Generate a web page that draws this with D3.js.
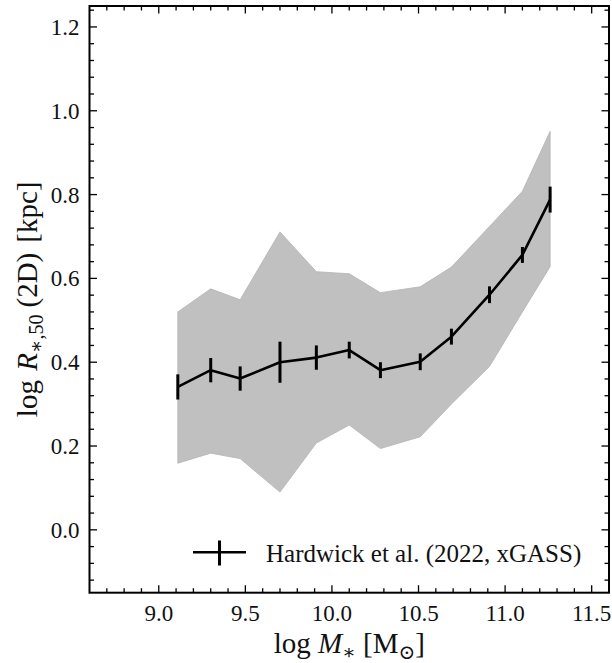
<!DOCTYPE html>
<html lang="en">
<head>
    <meta charset="UTF-8">
    <title>Size-mass relation</title>
    <script src="https://d3js.org/d3.v7.min.js"></script>
    <style>
        body { margin: 0; padding: 0; background: #fff; }
        svg text { font-family: "Liberation Serif", "DejaVu Serif", serif; fill: #111; }
    </style>
</head>
<body>
    <svg id="chart"></svg>
    <script>
        // median size-mass relation (Hardwick et al. 2022, xGASS)
        const logMstar = [9.11, 9.30, 9.47, 9.70, 9.91, 10.10, 10.28, 10.51, 10.69, 10.91, 11.10, 11.26];
        const medianR  = [0.341, 0.381, 0.361, 0.400, 0.411, 0.429, 0.381, 0.401, 0.461, 0.561, 0.656, 0.788];
        const errR     = [0.030, 0.029, 0.029, 0.049, 0.029, 0.020, 0.019, 0.020, 0.019, 0.020, 0.019, 0.031];
        // scatter band
        const upperR   = [0.520, 0.575, 0.549, 0.711, 0.616, 0.611, 0.566, 0.580, 0.627, 0.724, 0.808, 0.951];
        const lowerR   = [0.159, 0.183, 0.170, 0.090, 0.207, 0.250, 0.194, 0.222, 0.300, 0.390, 0.520, 0.628];

        const xTicks = [9.0, 9.5, 10.0, 10.5, 11.0, 11.5];
        const yTicks = [0.0, 0.2, 0.4, 0.6, 0.8, 1.0, 1.2];
        const legendLabel = "Hardwick et al. (2022, xGASS)";

        const width = 612, height = 663;
        const margin = { top: 6, right: 3, bottom: 70.3, left: 89.5 };

        const svg = d3.select("#chart").attr("width", width).attr("height", height);

        const x = d3.scaleLinear().domain([8.6, 11.6]).range([margin.left, width - margin.right]);
        const y = d3.scaleLinear().domain([-0.15, 1.25]).range([height - margin.bottom, margin.top]);

        const pts = logMstar.map((m, i) => ({ m: m, r: medianR[i], e: errR[i], lo: lowerR[i], hi: upperR[i] }));

        // band
        const area = d3.area().x(d => x(d.m)).y0(d => y(d.lo)).y1(d => y(d.hi));
        svg.append("path")
            .datum(pts)
            .attr("d", area)
            .attr("fill", "#c0c0c0")
            .attr("stroke", "#b4b4b4")
            .attr("stroke-width", 0.8);

        // median line
        const line = d3.line().x(d => x(d.m)).y(d => y(d.r));
        svg.append("path")
            .datum(pts)
            .attr("d", line)
            .attr("fill", "none")
            .attr("stroke", "#000")
            .attr("stroke-width", 2.6)
            .attr("stroke-linejoin", "round");

        // error bars
        svg.selectAll(".err")
            .data(pts)
            .enter().append("line")
            .attr("class", "err")
            .attr("x1", d => x(d.m)).attr("x2", d => x(d.m))
            .attr("y1", d => y(d.r - d.e)).attr("y2", d => y(d.r + d.e))
            .attr("stroke", "#000")
            .attr("stroke-width", 3);

        // ticks, inward on all four sides
        const x0 = margin.left, x1 = width - margin.right;
        const y0 = height - margin.bottom, y1 = margin.top;
        const majLen = 7.5, minLen = 4.5;
        const ticksG = svg.append("g").attr("stroke", "#000").attr("stroke-width", 1.3);

        const xMinor = d3.range(87, 116).map(v => v / 10).filter(v => !xTicks.some(t => Math.abs(t - v) < 1e-6));
        const yMinor = d3.range(-3, 32).map(v => v * 0.04).filter(v => v > -0.15 && v < 1.25 && !yTicks.some(t => Math.abs(t - v) < 1e-6));

        function xTick(v, len) {
            ticksG.append("line").attr("x1", x(v)).attr("x2", x(v)).attr("y1", y0).attr("y2", y0 - len);
            ticksG.append("line").attr("x1", x(v)).attr("x2", x(v)).attr("y1", y1).attr("y2", y1 + len);
        }
        function yTick(v, len) {
            ticksG.append("line").attr("x1", x0).attr("x2", x0 + len).attr("y1", y(v)).attr("y2", y(v));
            ticksG.append("line").attr("x1", x1).attr("x2", x1 - len).attr("y1", y(v)).attr("y2", y(v));
        }
        xTicks.forEach(v => xTick(v, majLen));
        xMinor.forEach(v => xTick(v, minLen));
        yTicks.forEach(v => yTick(v, majLen));
        yMinor.forEach(v => yTick(v, minLen));

        // frame
        svg.append("rect")
            .attr("x", x0).attr("y", y1)
            .attr("width", x1 - x0).attr("height", y0 - y1)
            .attr("fill", "none")
            .attr("stroke", "#000")
            .attr("stroke-width", 2);

        // tick labels
        svg.selectAll(".xlab")
            .data(xTicks)
            .enter().append("text")
            .attr("x", d => x(d))
            .attr("y", y0 + 28)
            .attr("text-anchor", "middle")
            .style("font-size", "23px")
            .text(d => d.toFixed(1));

        svg.selectAll(".ylab")
            .data(yTicks)
            .enter().append("text")
            .attr("x", x0 - 10)
            .attr("y", d => y(d) + 8)
            .attr("text-anchor", "end")
            .style("font-size", "23px")
            .text(d => d.toFixed(1));

        // axis labels
        const xl = svg.append("text")
            .attr("x", (x0 + x1) / 2)
            .attr("y", 653)
            .attr("text-anchor", "middle")
            .style("font-size", "29px");
        xl.append("tspan").text("log ");
        xl.append("tspan").style("font-style", "italic").text("M");
        xl.append("tspan").attr("dy", 6).style("font-size", "20px").text("∗");
        xl.append("tspan").attr("dy", -6).text(" [M");
        xl.append("tspan").attr("dy", 6).style("font-size", "20px").text("⊙");
        xl.append("tspan").attr("dy", -6).text("]");

        const yl = svg.append("text")
            .attr("transform", "translate(37," + (y0 + y1) / 2 + ") rotate(-90)")
            .attr("x", 0)
            .attr("y", 0)
            .attr("text-anchor", "middle")
            .style("font-size", "29px");
        yl.append("tspan").text("log ");
        yl.append("tspan").attr("dx", 2).style("font-style", "italic").text("R");
        yl.append("tspan").attr("dy", 6).style("font-size", "20px").text("∗,50");
        yl.append("tspan").attr("dy", -6).attr("dx", 7).text("(2D)");
        yl.append("tspan").attr("dx", 10).text("[kpc]");

        // legend
        const lg = svg.append("g");
        lg.append("line")
            .attr("x1", 193).attr("x2", 246)
            .attr("y1", 552.3).attr("y2", 552.3)
            .attr("stroke", "#000").attr("stroke-width", 2.6);
        lg.append("line")
            .attr("x1", 219.5).attr("x2", 219.5)
            .attr("y1", 540.5).attr("y2", 565.5)
            .attr("stroke", "#000").attr("stroke-width", 3);
        lg.append("text")
            .attr("x", 266)
            .attr("y", 562)
            .style("font-size", "25px")
            .text(legendLabel);
    </script>
</body>
</html>
